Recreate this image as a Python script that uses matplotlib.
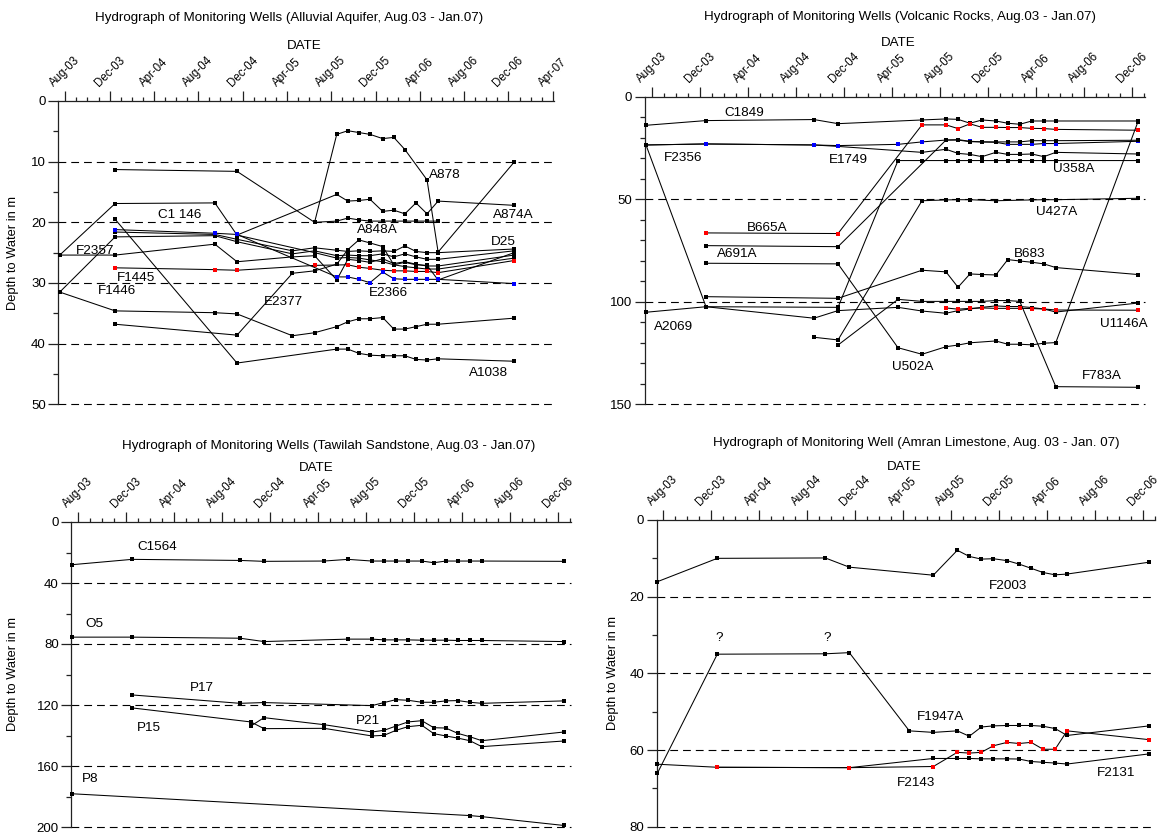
import numpy as np
import matplotlib
matplotlib.use("Agg")
import matplotlib.pyplot as plt
from matplotlib.ticker import MultipleLocator

plt.rcParams['font.family'] = ['Liberation Sans', 'DejaVu Sans']

# ---------------------------------------------------------------------------
# Time axis: months after 1 Aug 2003; major ticks every 4 months
# ---------------------------------------------------------------------------
date_ticks = ['Aug-03', 'Dec-03', 'Apr-04', 'Aug-04', 'Dec-04', 'Apr-05',
              'Aug-05', 'Dec-05', 'Apr-06', 'Aug-06', 'Dec-06', 'Apr-07']

# ---------------------------------------------------------------------------
# Alluvial aquifer wells (depth to water, m)
# ---------------------------------------------------------------------------
a878_t = [4.5, 15.5, 22.5, 24.5, 25.5, 26.5, 27.5, 28.65, 29.65, 30.65, 32.65, 33.65, 40.5]
a878_d = [11.3, 11.6, 20.0, 5.5, 4.9, 5.2, 5.5, 6.2, 6.0, 8.0, 13.0, 24.9, 10.1]

a874a_t = [-0.5, 4.5, 13.5, 15.5, 24.5, 25.5, 26.5, 27.5, 28.65, 29.65, 30.65, 31.65, 32.65, 33.65, 40.5]
a874a_d = [25.4, 16.9, 16.8, 22.1, 15.4, 16.5, 16.4, 16.2, 18.2, 18.0, 18.6, 16.8, 18.6, 16.5, 17.2]

a848a_t = [22.5, 24.5, 25.5, 26.5, 27.5, 28.65, 29.65, 30.65, 31.65, 32.65, 33.65]
a848a_d = [20.0, 19.8, 19.3, 19.6, 19.8, 19.8, 19.8, 19.8, 19.8, 19.8, 19.8]

a1038_t = [4.5, 15.5, 24.5, 25.5, 26.5, 27.5, 28.65, 29.65, 30.65, 31.65, 32.65, 33.65, 40.5]
a1038_d = [19.5, 43.2, 40.9, 40.9, 41.6, 41.9, 42.0, 42.0, 42.0, 42.6, 42.7, 42.5, 42.9]

f1446_t = [-0.5, 4.5, 13.5, 15.5, 20.5, 22.5, 24.5, 25.5, 26.5, 27.5, 28.65, 29.65, 30.65, 31.65, 32.65, 33.65, 40.5]
f1446_d = [31.5, 34.6, 34.9, 35.1, 38.7, 38.2, 37.2, 36.4, 35.9, 35.9, 35.7, 37.6, 37.6, 37.2, 36.8, 36.8, 35.8]

c1146_t = [4.5, 13.5, 15.5, 20.5, 22.5, 24.5, 25.5, 26.5, 27.5, 28.65, 29.65, 30.65, 31.65, 32.65, 33.65, 40.5]
c1146_d = [21.6, 22.0, 22.8, 24.7, 24.2, 24.6, 24.8, 24.7, 24.8, 24.7, 24.8, 23.9, 24.8, 25.0, 25.0, 24.4]

d25_t = [-0.5, 4.5, 13.5, 15.5, 20.5, 22.5, 24.5, 25.5, 26.5, 27.5, 28.65, 29.65, 30.65, 31.65, 32.65, 33.65, 40.5]
d25_d = [31.5, 22.4, 22.2, 23.2, 25.2, 24.7, 25.5, 25.4, 25.5, 25.5, 25.2, 25.7, 25.2, 25.7, 26.1, 26.1, 24.7]

f2357_t = [-0.5, 4.5, 13.5, 15.5, 20.5, 22.5, 24.5, 25.5, 26.5, 27.5, 28.65, 29.65, 30.65, 31.65, 32.65, 33.65, 40.5]
f2357_d = [25.4, 25.4, 23.6, 26.5, 25.7, 25.5, 29.5, 26.1, 26.3, 26.6, 26.0, 26.8, 26.5, 26.9, 27.2, 27.2, 25.4]

a_well_t = [15.5, 22.5, 24.5, 25.5, 26.5, 27.5, 28.65, 29.65, 30.65, 31.65, 32.65, 33.65, 40.5]
a_well_d = [22.1, 25.0, 25.9, 25.8, 25.9, 26.2, 26.5, 27.0, 27.3, 27.5, 27.7, 27.7, 25.9]

e2377_t = [4.5, 15.5, 20.5, 22.5, 24.5, 25.5, 26.5, 27.5, 28.65, 29.65, 30.65, 31.65, 32.65, 33.65, 40.5]
e2377_d = [36.8, 38.6, 28.4, 28.0, 26.9, 24.5, 22.9, 23.4, 24.0, 27.0, 26.6, 27.0, 27.1, 29.5, 25.0]

f1445_t = [4.5, 13.5, 15.5, 22.5, 25.5, 26.5, 27.5, 28.65, 29.65, 30.65, 31.65, 32.65, 33.65, 40.5]
f1445_d = [27.5, 27.8, 27.9, 27.1, 27.0, 27.4, 27.6, 27.9, 28.0, 28.0, 28.1, 28.1, 28.3, 26.3]

e2366_t = [4.5, 13.5, 15.5, 24.5, 25.5, 26.5, 27.5, 28.65, 29.65, 30.65, 31.65, 32.65, 33.65, 40.5]
e2366_d = [21.2, 21.8, 22.0, 29.0, 29.0, 29.4, 29.95, 28.2, 29.3, 29.4, 29.4, 29.4, 29.4, 30.1]

# ---------------------------------------------------------------------------
# Volcanic rock wells
# ---------------------------------------------------------------------------
c1849_t = [-0.5, 4.5, 13.5, 15.5, 22.5, 24.5, 25.5, 26.5, 27.5, 28.65, 29.65, 30.65, 31.65, 32.65, 33.65, 40.5]
c1849_d = [13.9, 11.6, 11.1, 13.1, 11.3, 10.8, 11.0, 12.9, 11.3, 11.8, 12.9, 13.4, 11.8, 11.8, 11.8, 11.8]

b665a_t = [4.5, 15.5, 22.5, 24.5, 25.5, 26.5, 27.5, 28.65, 29.65, 30.65, 31.65, 32.65, 33.65, 40.5]
b665a_d = [66.4, 66.7, 13.7, 13.7, 15.5, 13.2, 14.9, 14.9, 15.0, 15.0, 15.4, 15.5, 15.9, 16.3]

e1749_t = [-0.5, 4.5, 13.5, 15.5, 20.5, 22.5, 24.5, 25.5, 26.5, 27.5, 28.65, 29.65, 30.65, 31.65, 32.65, 33.65, 40.5]
e1749_d = [23.5, 23.0, 23.5, 23.8, 23.2, 22.0, 21.1, 20.9, 21.7, 22.0, 22.2, 23.2, 23.2, 23.2, 22.8, 22.8, 21.7]

f2356_t = [-0.5, 4.5, 13.5, 15.5, 22.5, 24.5, 25.5, 26.5, 27.5, 28.65, 29.65, 30.65, 31.65, 32.65, 33.65, 40.5]
f2356_d = [23.5, 23.0, 23.5, 24.2, 27.1, 25.6, 27.6, 28.1, 29.2, 27.1, 28.1, 28.1, 27.9, 29.2, 27.1, 27.9]

a691a_t = [4.5, 15.5, 24.5, 25.5, 26.5, 27.5, 28.65, 29.65, 30.65, 31.65, 32.65, 33.65, 40.5]
a691a_d = [72.6, 73.1, 21.1, 21.1, 21.9, 22.0, 22.0, 22.0, 22.0, 21.4, 21.4, 21.4, 21.2]

u358a_t = [-0.5, 4.5, 15.5, 20.5, 22.5, 24.5, 25.5, 26.5, 27.5, 28.65, 29.65, 30.65, 31.65, 32.65, 33.65, 40.5]
u358a_d = [23.5, 102.4, 102.7, 31.1, 31.1, 31.1, 31.1, 31.1, 31.1, 31.1, 31.1, 31.1, 31.1, 31.1, 31.1, 31.1]

u427a_t = [13.5, 15.5, 22.5, 24.5, 25.5, 26.5, 28.65, 31.65, 32.65, 33.65, 40.5]
u427a_d = [117.3, 118.6, 50.7, 50.3, 50.2, 50.2, 50.7, 50.3, 50.2, 50.2, 49.5]

f783a_t = [15.5, 20.5, 22.5, 24.5, 25.5, 26.5, 27.5, 28.65, 29.65, 30.65, 33.65, 40.5]
f783a_d = [121.1, 98.8, 99.8, 99.8, 99.8, 99.8, 99.8, 99.4, 99.4, 99.8, 141.4, 141.7]

b683_t = [4.5, 15.5, 22.5, 24.5, 25.5, 26.5, 27.5, 28.65, 29.65, 30.65, 31.65, 32.65, 33.65, 40.5]
b683_d = [97.5, 98.3, 84.6, 85.4, 92.9, 86.4, 86.7, 86.9, 79.4, 80.1, 80.7, 81.5, 83.3, 86.7]

a2069_t = [-0.5, 4.5, 13.5, 15.5, 20.5, 22.5, 24.5, 25.5, 26.5, 27.5, 28.65, 29.65, 30.65, 31.65, 32.65, 33.65, 40.5]
a2069_d = [105.1, 102.4, 108.0, 104.3, 102.7, 104.5, 105.6, 104.3, 103.5, 102.7, 102.0, 102.3, 102.3, 102.8, 103.5, 105.0, 100.6]

u1146a_t = [24.5, 25.5, 26.5, 27.5, 28.65, 29.65, 30.65, 31.65, 32.65, 33.65, 40.5]
u1146a_d = [103.0, 103.6, 103.2, 103.0, 103.2, 103.2, 103.2, 103.3, 103.5, 104.0, 104.1]

u502a_t = [4.5, 15.5, 20.5, 22.5, 24.5, 25.5, 26.5, 28.65, 29.65, 30.65, 31.65, 32.65, 33.65, 40.5]
u502a_d = [81.2, 81.5, 122.4, 125.6, 121.9, 121.1, 120.0, 119.1, 120.7, 120.7, 121.0, 120.2, 119.9, 12.1]

# ---------------------------------------------------------------------------
# Tawilah sandstone wells
# ---------------------------------------------------------------------------
c1564_t = [-0.5, 4.5, 13.5, 15.5, 20.5, 22.5, 24.5, 25.5, 26.5, 27.5, 28.65, 29.65, 30.65, 31.65, 32.65, 33.65, 40.5]
c1564_d = [28.0, 24.5, 25.2, 25.8, 25.6, 24.5, 25.6, 25.6, 25.6, 25.6, 25.6, 26.7, 25.6, 25.6, 25.6, 25.6, 25.8]

o5_t = [-0.5, 4.5, 13.5, 15.5, 22.5, 24.5, 25.5, 26.5, 27.5, 28.65, 29.65, 30.65, 31.65, 32.65, 33.65, 40.5]
o5_d = [75.5, 75.5, 76.2, 78.4, 76.8, 76.8, 77.3, 77.3, 77.3, 77.5, 77.5, 77.5, 77.7, 77.7, 77.7, 78.4]

p17_t = [4.5, 13.5, 15.5, 24.5, 25.5, 26.5, 27.5, 28.65, 29.65, 30.65, 31.65, 32.65, 33.65, 40.5]
p17_d = [113.4, 118.9, 118.4, 120.4, 118.4, 116.5, 116.9, 118.2, 118.2, 117.3, 117.1, 118.2, 118.9, 117.3]

p15_t = [4.5, 14.4, 15.5, 20.5, 24.5, 25.5, 26.5, 27.5, 28.65, 29.65, 30.65, 31.65, 32.65, 33.65, 40.5]
p15_d = [121.9, 131.1, 135.5, 135.3, 140.3, 139.9, 136.6, 134.2, 133.3, 138.8, 140.3, 141.7, 143.4, 147.3, 143.6]

p21_t = [14.4, 15.5, 20.5, 24.5, 25.5, 26.5, 27.5, 28.65, 29.65, 30.65, 31.65, 32.65, 33.65, 40.5]
p21_d = [133.8, 128.3, 132.9, 137.7, 136.6, 133.8, 131.1, 130.3, 134.9, 135.1, 138.6, 140.8, 143.4, 137.7]

p8_t = [-0.5, 32.65, 33.65, 40.5]
p8_d = [178.2, 192.5, 193.2, 199.0]

# ---------------------------------------------------------------------------
# Amran limestone wells
# ---------------------------------------------------------------------------
f2003_t = [-0.5, 4.5, 13.5, 15.5, 22.5, 24.5, 25.5, 26.5, 27.5, 28.65, 29.65, 30.65, 31.65, 32.65, 33.65, 40.5]
f2003_d = [16.1, 10.0, 9.9, 12.3, 14.4, 7.9, 9.5, 10.2, 10.1, 10.6, 11.5, 12.6, 13.7, 14.3, 14.1, 11.0]

f1947a_t = [-0.5, 4.5, 13.5, 15.5, 20.5, 22.5, 24.5, 25.5, 26.5, 27.5, 28.65, 29.65, 30.65, 31.65, 32.65, 33.65, 40.5]
f1947a_d = [66.1, 35.0, 34.9, 34.6, 55.0, 55.4, 55.0, 56.4, 54.0, 53.7, 53.6, 53.6, 53.6, 53.8, 54.4, 56.2, 53.7]

f2131_t = [-0.5, 4.5, 15.5, 22.5, 24.5, 25.5, 26.5, 27.5, 28.65, 29.65, 30.65, 31.65, 32.65, 33.65, 40.5]
f2131_d = [63.7, 64.5, 64.6, 62.2, 62.2, 62.2, 62.3, 62.3, 62.3, 62.35, 63.0, 63.2, 63.4, 63.65, 61.0]

f2143_t = [4.5, 15.5, 22.5, 24.5, 25.5, 26.5, 27.5, 28.65, 29.65, 30.65, 31.65, 32.65, 33.65, 40.5]
f2143_d = [64.5, 64.6, 64.3, 60.6, 60.8, 60.6, 58.9, 58.0, 58.3, 58.0, 59.8, 59.8, 55.0, 57.3]

# ---------------------------------------------------------------------------
# Well name annotations: (text, month, depth)
# ---------------------------------------------------------------------------
alluvial_names = [('A878', 34.3, 12.2), ('A874A', 40.4, 18.8), ('A848A', 28.2, 21.3),
                  ('D25', 39.5, 23.2), ('E2366', 29.15, 31.6), ('E2377', 19.7, 33.2),
                  ('C1 146', 10.3, 18.8), ('F2357', 2.7, 24.7), ('F1445', 6.4, 29.2),
                  ('F1446', 4.7, 31.3), ('A1038', 38.2, 44.9)]
volcanic_names = [('C1849', 7.7, 8.0), ('F2356', 2.6, 30.0), ('E1749', 16.4, 30.8),
                  ('B665A', 9.6, 63.8), ('A691A', 7.1, 76.8), ('A2069', 1.8, 112.1),
                  ('U358A', 35.1, 35.4), ('U427A', 33.7, 56.0), ('B683', 31.5, 76.7),
                  ('U1146A', 39.3, 111.0), ('U502A', 21.7, 131.6), ('F783A', 37.5, 136.2)]
tawilah_names = [('C1564', 6.6, 16.6), ('O5', 1.4, 67.0), ('P17', 10.3, 109.0),
                 ('P15', 5.9, 135.3), ('P21', 24.2, 130.3), ('P8', 1.0, 168.8)]
amran_names = [('F2003', 28.7, 17.1), ('F1947A', 23.1, 51.4), ('F2143', 21.1, 68.5),
               ('F2131', 37.7, 65.9), ('?', 4.7, 30.7), ('?', 13.7, 30.7)]

# ---------------------------------------------------------------------------
W, H = 1163, 834
fig = plt.figure(figsize=(W / 100, H / 100), dpi=100)


def box(left, top, right, bottom):
    return [left / W, 1 - bottom / H, (right - left) / W, (bottom - top) / H]


def setup(ax, xlim, n_major, ymax, ystep, yminor):
    ax.set_xlim(*xlim)
    ax.set_ylim(ymax, 0)
    ax.patch.set_alpha(0)
    for s in ('bottom', 'right'):
        ax.spines[s].set_visible(False)
    for s in ('top', 'left'):
        ax.spines[s].set_linewidth(0.9)
        ax.spines[s].set_color('#222222')
    ax.xaxis.tick_top()
    ax.set_xticks(np.arange(0, 4 * n_major, 4))
    ax.set_xticklabels(date_ticks[:n_major], rotation=45, ha='center', fontsize=8.3)
    ax.xaxis.set_minor_locator(MultipleLocator(1))
    ax.tick_params(axis='x', which='major', length=7, width=0.9, pad=1.5, color='#222222')
    ax.tick_params(axis='x', which='minor', length=3, width=0.9, color='#222222')
    ax.set_yticks(np.arange(0, ymax + 1, ystep))
    ax.yaxis.set_minor_locator(MultipleLocator(yminor))
    ax.tick_params(axis='y', which='major', length=7, width=0.9, labelsize=9.5, pad=2,
                   color='#222222')
    ax.tick_params(axis='y', which='minor', length=3.5, width=0.9, color='#222222')
    for y in np.arange(ystep, ymax + 1, ystep):
        ax.axhline(y, color='black', lw=0.8, dashes=(7, 4.5), clip_on=False)


def well(ax, t, d, color='black'):
    ax.plot(t, d, color='black', lw=0.75, marker='s', ms=2.3, mew=0,
            mfc=color, mec=color, clip_on=False, zorder=3)


def names(ax, items):
    for text, t, d in items:
        ax.text(t, d, text, fontsize=9.7, ha='center', va='center', zorder=4)


# Alluvial aquifer
ax1 = fig.add_axes(box(58.3, 101, 553.9, 404.3))
setup(ax1, (-0.63, 44.1), 12, 50, 10, 5)
for t, d, c in [(a878_t, a878_d, 'black'), (a874a_t, a874a_d, 'black'),
                (a848a_t, a848a_d, 'black'), (a1038_t, a1038_d, 'black'),
                (f1446_t, f1446_d, 'black'), (c1146_t, c1146_d, 'black'),
                (d25_t, d25_d, 'black'), (f2357_t, f2357_d, 'black'),
                (a_well_t, a_well_d, 'black'), (e2377_t, e2377_d, 'black'),
                (f1445_t, f1445_d, 'red'), (e2366_t, e2366_d, 'blue')]:
    well(ax1, t, d, c)
names(ax1, alluvial_names)

# Volcanic rocks
ax2 = fig.add_axes(box(644.8, 96.8, 1145.2, 404.3))
setup(ax2, (-0.6, 41.1), 11, 150, 50, 10)
for t, d, c in [(c1849_t, c1849_d, 'black'), (f2356_t, f2356_d, 'black'),
                (e1749_t, e1749_d, 'blue'), (a691a_t, a691a_d, 'black'),
                (u358a_t, u358a_d, 'black'), (u427a_t, u427a_d, 'black'),
                (f783a_t, f783a_d, 'black'), (b683_t, b683_d, 'black'),
                (a2069_t, a2069_d, 'black'), (u502a_t, u502a_d, 'black'),
                (b665a_t, b665a_d, 'red'), (u1146a_t, u1146a_d, 'red')]:
    well(ax2, t, d, c)
names(ax2, volcanic_names)

# Tawilah sandstone
ax3 = fig.add_axes(box(71.4, 522, 571.2, 827))
setup(ax3, (-0.55, 41.1), 11, 200, 40, 20)
for t, d in [(c1564_t, c1564_d), (o5_t, o5_d), (p17_t, p17_d),
             (p15_t, p15_d), (p21_t, p21_d), (p8_t, p8_d)]:
    well(ax3, t, d)
names(ax3, tawilah_names)

# Amran limestone
ax4 = fig.add_axes(box(656.7, 520, 1155.3, 826.7))
setup(ax4, (-0.55, 41.0), 11, 80, 20, 10)
well(ax4, f2003_t, f2003_d)
well(ax4, f1947a_t, f1947a_d)
well(ax4, f2131_t, f2131_d)
well(ax4, f2143_t, f2143_d, 'red')
names(ax4, amran_names)


# Titles, axis captions
def ftext(x, y, s, **kw):
    fig.text(x / W, 1 - y / H, s, ha='center', va='center', **kw)


ftext(289, 18, 'Hydrograph of Monitoring Wells (Alluvial Aquifer, Aug.03 - Jan.07)', fontsize=9.6)
ftext(900, 17, 'Hydrograph of Monitoring Wells (Volcanic Rocks, Aug.03 - Jan.07)', fontsize=9.6)
ftext(329, 446, 'Hydrograph of Monitoring Wells (Tawilah Sandstone, Aug.03 - Jan.07)', fontsize=9.6)
ftext(916, 443, 'Hydrograph of Monitoring Well (Amran Limestone, Aug. 03 - Jan. 07)', fontsize=9.6)
for x, y in [(304, 46), (898, 43), (316, 468), (904, 467)]:
    ftext(x, y, 'DATE', fontsize=9.6)
for x, y in [(13, 253), (13, 674), (613, 673)]:
    ftext(x, y, 'Depth to Water in m', fontsize=9.3, rotation=90)

fig.savefig('out.png', dpi=100)
